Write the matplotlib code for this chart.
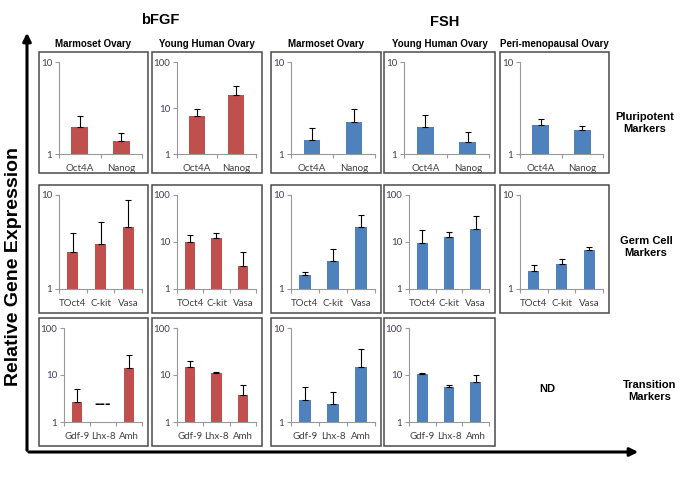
import numpy as np
import matplotlib.pyplot as plt
from matplotlib.patches import Rectangle, FancyArrowPatch
from matplotlib.ticker import FixedLocator, NullLocator

#%% Datos
cats_pluri = ['Oct4A', 'Nanog']
cats_germ = ['TOct4', 'C-kit', 'Vasa']
cats_trans = ['Gdf-9', 'Lhx-8', 'Amh']

# fila 1: marcadores pluripotentes
pl_bfgf_marm = [1.97, 1.38];  pl_bfgf_marm_err = [0.62, 0.31]
pl_bfgf_hum = [6.7, 19.2];    pl_bfgf_hum_err = [2.8, 11.0]
pl_fsh_marm = [1.42, 2.23];   pl_fsh_marm_err = [0.50, 0.85]
pl_fsh_hum = [1.96, 1.36];    pl_fsh_hum_err = [0.71, 0.36]
pl_fsh_peri = [2.07, 1.82];   pl_fsh_peri_err = [0.33, 0.19]

# fila 2: marcadores de celulas germinales
gc_bfgf_marm = [2.47, 3.02, 4.54];  gc_bfgf_marm_err = [1.45, 2.20, 4.30]
gc_bfgf_hum = [9.9, 12.1, 3.12];    gc_bfgf_hum_err = [4.3, 3.3, 2.9]
gc_fsh_marm = [1.41, 2.00, 4.53];   gc_fsh_marm_err = [0.09, 0.64, 1.65]
gc_fsh_hum = [9.4, 12.5, 19.0];     gc_fsh_hum_err = [9.0, 3.6, 16.1]
gc_fsh_peri = [1.56, 1.85, 2.59];   gc_fsh_peri_err = [0.24, 0.22, 0.21]

# fila 3: marcadores de transicion (Lhx-8 no detectado en marmoset bFGF)
tr_bfgf_marm = [2.62, np.nan, 14.1];  tr_bfgf_marm_err = [2.42, 0, 12.6]
tr_bfgf_hum = [14.6, 11.0, 3.75];     tr_bfgf_hum_err = [5.6, 0.4, 2.35]
tr_fsh_marm = [1.71, 1.56, 3.83];     tr_fsh_marm_err = [0.65, 0.52, 2.08]
tr_fsh_hum = [10.7, 5.65, 7.27];      tr_fsh_hum_err = [0.4, 0.60, 2.93]

col_titles = ['Marmoset Ovary', 'Young Human Ovary', 'Marmoset Ovary',
              'Young Human Ovary', 'Peri-menopausal Ovary']
row_titles = ['Pluripotent\nMarkers', 'Germ Cell\nMarkers', 'Transition\nMarkers']

RED = '#C0504D'
BLUE = '#4F81BD'

#%% Geometria (pixeles)
W, H = 685, 488
box_x = [(39, 148), (152, 262), (271, 381), (384, 495), (500, 609)]
box_y = [(52, 173), (185, 313), (318, 446)]

def fx(x):
    return x / W

def fy(y):
    return 1 - y / H

plt.rcParams['font.family'] = ['Liberation Sans', 'DejaVu Sans']
fig = plt.figure(figsize=(W / 100, H / 100), dpi=100)


def panel(col, row, cats, vals, errs, color, ymax):
    bx0, bx1 = box_x[col]
    by0, by1 = box_y[row]
    fig.add_artist(Rectangle((fx(bx0), fy(by1)), (bx1 - bx0) / W, (by1 - by0) / H,
                             transform=fig.transFigure, fill=False,
                             ec='#4a4a4a', lw=1.1))
    left = bx0 + (25 if ymax == 100 else 20)
    right = bx1 - 6
    top = by0 + 10
    bottom = by1 - (19 if row == 0 else 24)
    ax = fig.add_axes([fx(left), fy(bottom), (right - left) / W, (bottom - top) / H])
    x = np.arange(len(cats))
    v = np.array(vals, dtype=float)
    e = np.array(errs, dtype=float)
    ax.bar(x, np.nan_to_num(v, nan=0), width=0.4, color=color, bottom=0)
    ok = ~np.isnan(v)
    ax.errorbar(x[ok], v[ok], yerr=[np.zeros(ok.sum()), e[ok]], fmt='none',
                ecolor='black', elinewidth=0.8, capsize=2.5, capthick=0.8)
    # no detectado -> guiones
    for i in np.where(~ok)[0]:
        ax.text(x[i], 2.5, '---', ha='center', va='center', fontsize=12,
                fontweight='bold', color='black')
    ax.set_yscale('log')
    ax.set_ylim(1, ymax)
    ax.set_xlim(-0.5, len(cats) - 0.5)
    yt = [1, 10] if ymax == 10 else [1, 10, 100]
    ax.yaxis.set_major_locator(FixedLocator(yt))
    ax.yaxis.set_minor_locator(NullLocator())
    ax.set_yticklabels([str(t) for t in yt])
    ax.set_xticks(x)
    ax.set_xticklabels(cats)
    ax.set_xticks(np.arange(len(cats) + 1) - 0.5, minor=True)
    ax.tick_params(axis='x', which='major', length=0, pad=7, labelsize=7,
                   labelcolor='#404040')
    ax.tick_params(axis='x', which='minor', length=3, color='#999999', width=0.8)
    ax.tick_params(axis='y', which='major', length=3, color='#999999', width=0.8,
                   labelsize=7, labelcolor='#4b3b5b', pad=2)
    for s in ['top', 'right']:
        ax.spines[s].set_visible(False)
    for s in ['left', 'bottom']:
        ax.spines[s].set_color('#999999')
        ax.spines[s].set_linewidth(0.8)
    for lab in ax.get_xticklabels() + ax.get_yticklabels():
        lab.set_family(['Lato', 'DejaVu Sans'])
    return ax


#%% Paneles
panel(0, 0, cats_pluri, pl_bfgf_marm, pl_bfgf_marm_err, RED, 10)
panel(1, 0, cats_pluri, pl_bfgf_hum, pl_bfgf_hum_err, RED, 100)
panel(2, 0, cats_pluri, pl_fsh_marm, pl_fsh_marm_err, BLUE, 10)
panel(3, 0, cats_pluri, pl_fsh_hum, pl_fsh_hum_err, BLUE, 10)
panel(4, 0, cats_pluri, pl_fsh_peri, pl_fsh_peri_err, BLUE, 10)

panel(0, 1, cats_germ, gc_bfgf_marm, gc_bfgf_marm_err, RED, 10)
panel(1, 1, cats_germ, gc_bfgf_hum, gc_bfgf_hum_err, RED, 100)
panel(2, 1, cats_germ, gc_fsh_marm, gc_fsh_marm_err, BLUE, 10)
panel(3, 1, cats_germ, gc_fsh_hum, gc_fsh_hum_err, BLUE, 100)
panel(4, 1, cats_germ, gc_fsh_peri, gc_fsh_peri_err, BLUE, 10)

panel(0, 2, cats_trans, tr_bfgf_marm, tr_bfgf_marm_err, RED, 100)
panel(1, 2, cats_trans, tr_bfgf_hum, tr_bfgf_hum_err, RED, 100)
panel(2, 2, cats_trans, tr_fsh_marm, tr_fsh_marm_err, BLUE, 10)
panel(3, 2, cats_trans, tr_fsh_hum, tr_fsh_hum_err, BLUE, 100)

#%% Textos
for (bx0, bx1), t in zip(box_x, col_titles):
    fig.text(fx((bx0 + bx1) / 2), fy(44), t, ha='center', va='center',
             fontsize=7, fontweight='bold')
fig.text(fx(160), fy(20), 'bFGF', ha='center', va='center', fontsize=10.5, fontweight='bold')
fig.text(fx(445), fy(22), 'FSH', ha='center', va='center', fontsize=10.5, fontweight='bold')
for yy, xx, t in zip([123, 247, 391], [645, 646, 650], row_titles):
    fig.text(fx(xx), fy(yy), t, ha='center', va='center', fontsize=8,
             fontweight='bold', linespacing=1.2)
fig.text(fx(547), fy(389), 'ND', ha='center', va='center', fontsize=8, fontweight='bold')
fig.text(fx(14), fy(266), 'Relative Gene Expression', ha='center', va='center',
         rotation=90, fontsize=14, fontweight='bold')

#%% Flechas de ejes
fig.add_artist(FancyArrowPatch((fx(27), fy(453)), (fx(27), fy(30)), transform=fig.transFigure,
                               arrowstyle='-|>', mutation_scale=12, lw=2.2, color='black'))
fig.add_artist(FancyArrowPatch((fx(26), fy(452)), (fx(641), fy(452)), transform=fig.transFigure,
                               arrowstyle='-|>', mutation_scale=12, lw=2.2, color='black'))

fig.savefig('out.png', dpi=100)
